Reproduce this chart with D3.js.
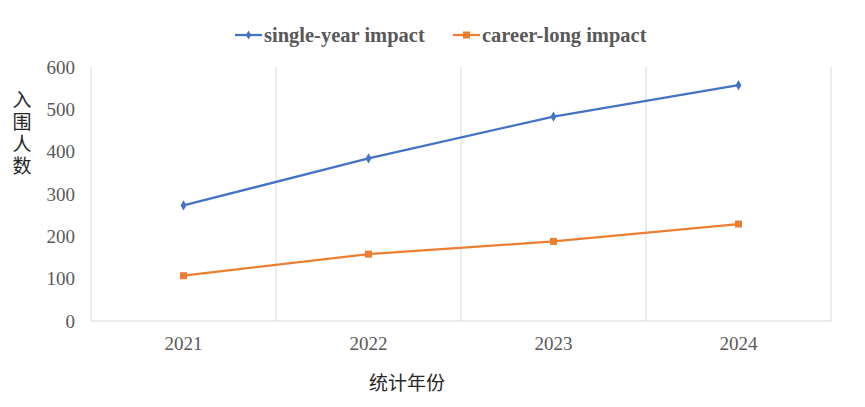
<!DOCTYPE html>
<html><head><meta charset="utf-8">
<script src="https://cdn.jsdelivr.net/npm/d3@7"></script>
<style>body{margin:0;background:#fff}</style>
</head><body>
<svg id="chart" width="865" height="407"></svg>
<script>
const years = ["2021","2022","2023","2024"];
const singleYear = [273, 384, 483, 557];
const careerLong = [107, 158, 188, 229];
const yTicks = [0,100,200,300,400,500,600];
const seriesNames = ["single-year impact","career-long impact"];
const seriesColors = ["#4472C4","#ED7D31"];
const xTitle = "统计年份";
const yTitle = "入围人数";

const svg = d3.select("#chart");
const m = {left:91, right:34, top:67, bottom:86};
const W = 865, H = 407;
const x = d3.scaleBand().domain(years).range([m.left, W - m.right]).padding(0);
const y = d3.scaleLinear().domain([0,600]).range([H - m.bottom, m.top]);

// vertical gridlines at band edges
const edges = years.map(d => x(d)).concat([x.range()[1]]);
svg.append("g").selectAll("line").data(edges).join("line")
  .attr("x1", d=>d).attr("x2", d=>d)
  .attr("y1", y(600)).attr("y2", y(0))
  .attr("stroke", "#d9d9d9").attr("stroke-width", 1);
// bottom axis line
svg.append("line").attr("x1", x.range()[0]).attr("x2", x.range()[1])
  .attr("y1", y(0)).attr("y2", y(0)).attr("stroke","#d9d9d9");

// y axis
const ya = svg.append("g").attr("transform", `translate(${m.left},0)`)
  .call(d3.axisLeft(y).tickValues(yTicks).tickSize(0).tickPadding(16));
ya.select(".domain").remove();
ya.selectAll("text").attr("font-family","Liberation Serif").attr("font-size",19).attr("fill","#595959");

// x axis
const xa = svg.append("g").attr("transform", `translate(0,${y(0)})`)
  .call(d3.axisBottom(x).tickSize(0).tickPadding(16));
xa.select(".domain").remove();
xa.selectAll("text").attr("font-family","Liberation Serif").attr("font-size",19).attr("fill","#595959");

// lines
const all = [singleYear, careerLong];
const line = d3.line().x((d,i)=>x(years[i]) + x.bandwidth()/2).y(d=>y(d));
all.forEach((s, k) => {
  svg.append("path").datum(s).attr("d", line).attr("fill","none")
    .attr("stroke", seriesColors[k]).attr("stroke-width", 2.25).attr("stroke-linejoin","round");
});
// markers
svg.append("g").selectAll("path").data(singleYear).join("path")
  .attr("d", d3.symbol(d3.symbolDiamond, 30))
  .attr("transform", (d,i)=>`translate(${x(years[i])+x.bandwidth()/2},${y(d)})`)
  .attr("fill", seriesColors[0]);
svg.append("g").selectAll("rect").data(careerLong).join("rect")
  .attr("x",(d,i)=>x(years[i])+x.bandwidth()/2-3.5).attr("y",d=>y(d)-3.5)
  .attr("width",7).attr("height",7).attr("fill", seriesColors[1]);

// legend
const legendX = [235, 453];
seriesNames.forEach((n,k)=>{
  const g = svg.append("g").attr("transform", `translate(${legendX[k]},35)`);
  g.append("line").attr("x1",0).attr("x2",27).attr("y1",0).attr("y2",0)
    .attr("stroke",seriesColors[k]).attr("stroke-width",2.25);
  if (k===0) g.append("path").attr("d", d3.symbol(d3.symbolDiamond, 24)).attr("transform","translate(13.5,0)").attr("fill",seriesColors[k]);
  else g.append("rect").attr("x",10).attr("y",-3.5).attr("width",7).attr("height",7).attr("fill",seriesColors[k]);
  g.append("text").attr("x",29).attr("y",6.5).text(n)
    .attr("font-family","Liberation Serif").attr("font-weight","bold").attr("font-size",20.5).attr("fill","#595959");
});

// axis titles
svg.append("text").attr("x", 407).attr("y", 390).attr("text-anchor","middle")
  .attr("font-family","Noto Sans CJK SC").attr("font-size",19).attr("fill","#262626").text(xTitle);
svg.append("text").attr("x", 22).attr("y", 90)
  .attr("writing-mode","vertical-rl").attr("letter-spacing",3)
  .attr("font-family","Noto Sans CJK SC").attr("font-size",19).attr("fill","#262626").text(yTitle);
</script>
</body></html>
